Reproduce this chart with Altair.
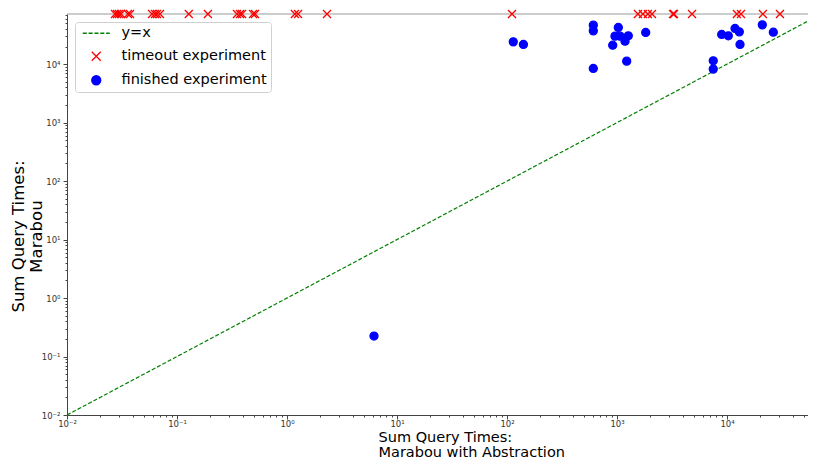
import altair as alt
import pandas as pd

# ---------------- data ----------------
TIMEOUT = 72000
X_DOMAIN = [0.01, 54500]
Y_DOMAIN = [0.01, 72000]

timeout_x = [0.0273, 0.0285, 0.0297, 0.031, 0.0358, 0.0374, 0.0593, 0.0631,
             0.0658, 0.070, 0.128, 0.191, 0.351, 0.374, 0.39, 0.491, 0.512,
             1.18, 1.26, 2.31, 111, 1550, 1720, 1910, 2080, 3230, 3300, 4810,
             12300, 13400, 21200, 30300]

finished_x = [114, 141, 609, 609, 609, 1028, 959, 1065, 1267, 1183, 914, 1225,
              1824, 7500, 7500, 8950, 10280, 11830, 12940, 13130, 20940, 26370,
              6.18]
finished_y = [24050, 21720, 46400, 37100, 8440, 42400, 30100, 30100, 30500,
              24700, 21100, 11250, 34800, 11400, 8220, 32200, 30500, 40800,
              35650, 21720, 46950, 35200, 0.224]

diag = [0.01, 72000]

kinds = ["y=x", "timeout experiment", "finished experiment"]
colors = ["#008000", "#ff0000", "#0000ff"]
fills = ["transparent", "transparent", "#0000ff"]

major = [0.01, 0.1, 1, 10, 100, 1000, 10000]
major_labels = ["10⁻²", "10⁻¹", "10⁰", "10¹", "10²", "10³", "10⁴"]

# ---------------- build tables ----------------
pts = pd.DataFrame({
    "x": timeout_x + finished_x,
    "y": [TIMEOUT] * len(timeout_x) + finished_y,
    "kind": ["timeout experiment"] * len(timeout_x) + ["finished experiment"] * len(finished_x),
})
line_df = pd.DataFrame({"x": diag, "y": diag})


def ticks(maxv):
    vals = []
    for k in range(-2, 5):
        for m in range(1, 10):
            v = m * 10 ** k if k >= 0 else round(m * 10.0 ** k, 10)
            if v <= maxv:
                vals.append(v)
    return vals


label_expr = " : ".join(
    f"datum.value == {v} ? '{l}'" for v, l in zip(major, major_labels)) + " : ''"
major_test = "indexof([" + ",".join(str(v) for v in major) + "], datum.value) >= 0"

FONT = "DejaVu Sans"

common_axis = dict(
    grid=False, labelExpr=label_expr, labelFont=FONT, labelFontSize=8.5,
    labelColor="#333", domainColor="#444", tickColor="#444",
    tickSize={"condition": {"test": major_test, "value": 4}, "value": 2},
    titleFont=FONT, titleFontWeight="normal", titleColor="#000",
    labelFlush=False, labelOverlap=False,
)

x_axis = alt.Axis(values=ticks(X_DOMAIN[1]),
                  title=["Sum Query Times:", "Marabou with Abstraction"],
                  titleFontSize=14.5, titleAlign="left", titleAnchor="start",
                  titleX=311, titleY=15, titleBaseline="top", titleLineHeight=15,
                  labelPadding=0, **common_axis)
y_axis = alt.Axis(values=ticks(Y_DOMAIN[1]),
                  title=["Sum Query Times:", "Marabou"],
                  titleFontSize=16.5, titleAlign="center",
                  titleX=-57, titleY=222, titleBaseline="top", titleLineHeight=18,
                  labelPadding=3, **common_axis)

xs = alt.Scale(type="log", domain=X_DOMAIN, nice=False)
ys = alt.Scale(type="log", domain=Y_DOMAIN, nice=False)

line = alt.Chart(line_df).mark_line(
    color="#008000", strokeDash=[4, 2], strokeWidth=1.2, clip=True
).encode(
    x=alt.X("x:Q", scale=xs, axis=x_axis),
    y=alt.Y("y:Q", scale=ys, axis=y_axis),
)

dash_path = "M-3,0L-2.1,0M-1.7,0L-0.8,0M-0.4,0L0.5,0M0.9,0L1.8,0M2.2,0L3,0"
x_path = "M-1,-1L1,1M-1,1L1,-1"

legend = alt.Legend(
    title=None, orient="none", legendX=8, legendY=8,
    fillColor="white", strokeColor="#d0d0d0", cornerRadius=3, padding=4,
    labelFont=FONT, labelFontSize=14.5, labelColor="#000",
    symbolSize=81, symbolStrokeWidth=1.3, symbolOffset=10, labelOffset=18,
    rowPadding=8,
)

points = alt.Chart(pts).mark_point(size=64, strokeWidth=1.3, opacity=1).encode(
    x=alt.X("x:Q", scale=xs),
    y=alt.Y("y:Q", scale=ys),
    shape=alt.Shape("kind:N", scale=alt.Scale(domain=kinds, range=[dash_path, x_path, "circle"]), legend=legend),
    stroke=alt.Stroke("kind:N", scale=alt.Scale(domain=kinds, range=colors), legend=legend),
    fill=alt.Fill("kind:N", scale=alt.Scale(domain=kinds, range=fills), legend=legend),
)

top_spine = alt.Chart(pd.DataFrame({"a": [0]})).mark_rule(color="#999", strokeWidth=1).encode(
    y=alt.value(0), x=alt.value(0), x2=alt.value(741)
)

chart = alt.layer(line, top_spine, points).properties(
    width=741, height=401,
    autosize=alt.AutoSizeParams(type="none"),
    padding={"left": 59, "top": 6, "right": 0, "bottom": 44},
    background="white",
).configure_view(stroke=None)

chart.save("out.html", embed_options={"renderer": "svg", "actions": False})
